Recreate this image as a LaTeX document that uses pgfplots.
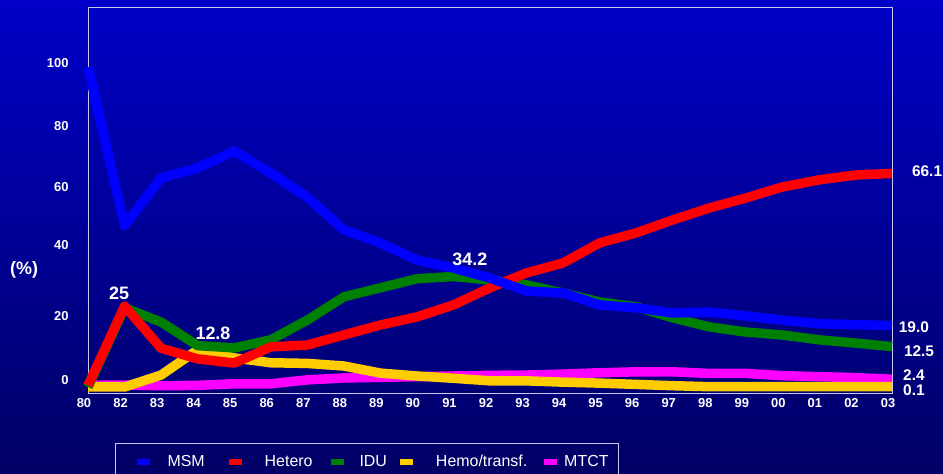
\documentclass[border=0pt]{standalone}
\usepackage{fontspec}
\setmainfont{Liberation Sans}
\usepackage{pgfplots}
\pgfplotsset{compat=1.18}
\definecolor{bgtop}{RGB}{0,0,200}
\definecolor{bgbot}{RGB}{0,0,100}
\definecolor{frameC}{RGB}{200,200,240}
\definecolor{cMSM}{RGB}{0,0,255}
\definecolor{cHet}{RGB}{255,0,0}
\definecolor{cIDU}{RGB}{0,128,0}
\definecolor{cHemo}{RGB}{255,204,0}
\definecolor{cMTCT}{RGB}{255,0,255}
\pgfplotstableread{
x MSM Het IDU Hemo MTCT
0 99 0.5 0 0 0.6
1 50 25 24.5 0 0.6
2 64.7 12 20.1 3.7 0.4
3 67.8 8.7 12.8 11.5 0.5
4 73 7.4 12.1 9 1
5 66.2 12.4 14.6 7.5 1
6 58.8 13 20.7 7.3 2.2
7 48.6 16.1 27.9 6.5 2.8
8 44.6 19.2 30.7 4.3 3.0
9 39.3 21.7 33.5 3.4 3.2
10 36.8 25.4 34.2 2.7 3.4
11 33.7 30.7 33.1 1.9 3.6
12 29.7 35.3 31.6 1.9 3.7
13 29.1 38.4 29.1 1.5 4.0
14 25.4 44.6 26.3 1.2 4.4
15 24.5 47.7 24.8 0.8 4.7
16 22.9 51.7 21.4 0.4 4.7
17 23.2 55.4 18.6 0.1 4.2
18 22 58.5 17 0.1 4.2
19 20.7 61.9 16.1 0.1 3.5
20 19.6 64.1 14.6 0.1 3.2
21 19.3 65.6 13.6 0.1 2.9
22 19.0 66.1 12.5 0.1 2.4
}\datatable
\begin{document}
\begin{tikzpicture}
\shade[top color=bgtop, bottom color=bgbot] (0bp,0bp) rectangle (943bp,474bp);
\useasboundingbox (0bp,0bp) rectangle (943bp,474bp);
\begin{axis}[
  at={(88bp,81bp)}, anchor=south west,
  width=804bp, height=385bp, scale only axis,
  xmin=0, xmax=22, ymin=-1.86, ymax=117.3,
  clip=false,
  axis line style={frameC, line width=1bp},
  major tick length=0pt,
  xtick={0,...,22},
  xticklabels={80,82,83,84,85,86,87,88,89,90,91,92,93,94,95,96,97,98,99,00,01,02,03},
  ytick={2.2,22,44,62,80.8,100.3},
  yticklabels={0,20,40,60,80,100},
  xticklabel style={font=\bfseries\fontsize{13}{15}\selectfont, text=white, xshift=-4bp, yshift=-2bp},
  yticklabel style={font=\bfseries\fontsize{13}{15}\selectfont, text=white, xshift=-16bp},
  legend image code/.code={\path[draw=none, fill=none] (0bp,0bp) -- (11bp,0bp); \path[fill=#1, draw=none] (11bp,-3bp) rectangle (24bp,3bp);},
  legend columns=5,
  legend style={at={(0.0336,-0.13)}, anchor=north west, draw=frameC, line width=1bp, fill=none,
    text=white, font=\fontsize{16}{19}\selectfont, inner xsep=10bp, inner ysep=11.5bp,
    nodes={inner sep=0pt}, /tikz/column sep=0pt},
]
\addlegendimage{cMSM}\addlegendentry{\hspace*{18bp}MSM\hspace*{13bp}}
\addlegendimage{cHet}\addlegendentry{\hspace*{23bp}Hetero\hspace*{7bp}}
\addlegendimage{cIDU}\addlegendentry{\hspace*{16bp}IDU\hspace*{2bp}}
\addlegendimage{cHemo}\addlegendentry{\hspace*{23bp}Hemo/transf.\hspace*{6bp}}
\addlegendimage{cMTCT}\addlegendentry{\hspace*{7bp}MTCT}
\addplot[cMTCT, line width=9.5bp, line join=round, forget plot] table[x=x, y=MTCT] {\datatable};
\addplot[cHemo, line width=9.5bp, line join=round, forget plot] table[x=x, y=Hemo] {\datatable};
\addplot[cIDU, line width=9.5bp, line join=round, forget plot] table[x=x, y=IDU] {\datatable};
\addplot[cHet, line width=9.5bp, line join=round, forget plot] table[x=x, y=Het] {\datatable};
\addplot[cMSM, line width=9.5bp, line join=round, forget plot] table[x=x, y=MSM] {\datatable};
\node[text=white, font=\bfseries\fontsize{18}{20}\selectfont] at (axis cs:-1.75,36.2) {(\%)};
\node[text=white, font=\bfseries\fontsize{18}{20}\selectfont] at (axis cs:0.85,29.1) {25};
\node[text=white, font=\bfseries\fontsize{18}{20}\selectfont] at (axis cs:3.42,16.7) {12.8};
\node[text=white, font=\bfseries\fontsize{18}{20}\selectfont] at (axis cs:10.45,39.6) {34.2};
\node[text=white, font=\bfseries\fontsize{15.5}{18}\selectfont] at (axis cs:22.96,66.9) {66.1};
\node[text=white, font=\bfseries\fontsize{15.5}{18}\selectfont] at (axis cs:22.6,18.6) {19.0};
\node[text=white, font=\bfseries\fontsize{15.5}{18}\selectfont] at (axis cs:22.74,11.1) {12.5};
\node[text=white, font=\bfseries\fontsize{15.5}{18}\selectfont] at (axis cs:22.6,3.7) {2.4};
\node[text=white, font=\bfseries\fontsize{15.5}{18}\selectfont] at (axis cs:22.6,-0.9) {0.1};
\end{axis}
\end{tikzpicture}
\end{document}
